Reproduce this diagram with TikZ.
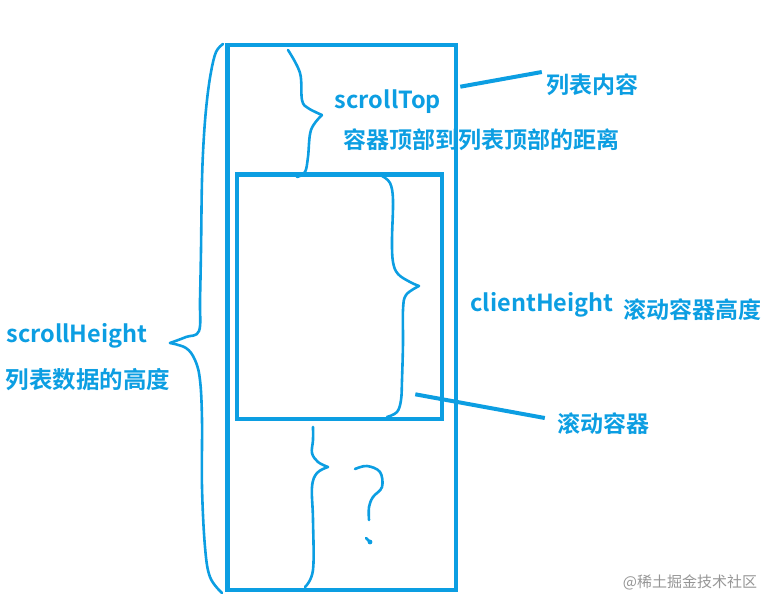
\documentclass[tikz,border=0pt]{standalone}
\usepackage{fontspec}
\setmainfont{Noto Sans}
\newfontfamily\cjk{Noto Sans CJK SC}[BoldFont={Noto Sans CJK SC Bold}]
\usetikzlibrary{calc}
\definecolor{penblue}{RGB}{12,158,226}
\definecolor{markgray}{RGB}{150,150,150}

\begin{document}
\begin{tikzpicture}[x=1pt,y=-1pt,
  box/.style={draw=penblue,line width=4.6pt,rectangle,inner sep=0pt},
  brc/.style={draw=penblue,line width=2.6pt,line cap=round,line join=round},
  lead/.style={draw=penblue,line width=4pt},
  en/.style={text=penblue,font=\cjk\fontsize{23.5}{26}\selectfont\bfseries,inner sep=1pt},
  zh/.style={text=penblue,font=\cjk\fontsize{23}{26}\selectfont\bfseries,inner sep=1pt}]
\useasboundingbox (0,0) rectangle (782,611);
\draw node [box, minimum width=228.5pt, minimum height=545pt] (list) at (341.75,317.5){};
\draw node [box, minimum width=205pt, minimum height=244.5pt] (view) at (339.5,296.75){};

\draw[brc] plot[smooth, tension=0.6] coordinates {(223,44) (216,52) (211,72) (207,100) (204,135) (202,180) (201,250) (200,300) (199,331) (186,337) (170,343)};
\draw[brc] plot[smooth, tension=0.6] coordinates {(170,343) (186,348) (195,360) (200,380) (202,420) (202,487) (205,547) (210,577) (222,593)};

\draw[brc] plot[smooth, tension=0.6] coordinates {(288,50) (300,73) (302,100) (308,108) (322,115)};
\draw[brc] plot[smooth, tension=0.6] coordinates {(322,115) (311,130) (308,157) (305,172) (297,177)};

\draw[brc] plot[smooth, tension=0.6] coordinates {(382,176) (390,183) (393,200) (392,240) (393,262) (398,274) (410,282) (419,286)};
\draw[brc] plot[smooth, tension=0.6] coordinates {(419,286) (406,295) (403,310) (403,343) (402,380) (401,400) (397,412) (387,417)};

\draw[brc] plot[smooth, tension=0.6] coordinates {(313,427) (313,440) (312,453) (318,462) (328,467)};
\draw[brc] plot[smooth, tension=0.6] coordinates {(328,467) (317,473) (312,487) (313,520) (313,570) (305,587)};

\draw[brc] plot[smooth, tension=0.6] coordinates {(355,469) (367,466) (380,472) (382,487) (373,497) (369,507) (369,520)};
\draw[brc] (366,538) -- (370,542);
\fill[penblue] (370,542) circle (2.4);

\draw node[en] (toptxt) at (388,102){scrollTop};
\draw node[zh] (topzh) at (481,140){容器顶部到列表顶部的距离};
\draw node[zh] (listlbl) at (592,85){列表内容};
\draw node[en] (clitxt) at (542,305){clientHeight};
\draw node[zh] (clizh) at (692,310){滚动容器高度};
\draw node[zh] (viewlbl) at (603,424){滚动容器};
\draw node[en] (sctxt) at (77,336){scrollHeight};
\draw node[zh,font=\cjk\fontsize{23.5}{26}\selectfont\bfseries] (sczh) at (88,380){列表数据的高度};
\draw node[text=markgray,font=\cjk\fontsize{15}{18}\selectfont] (mark) at (690,582){@稀土掘金技术社区};

\coordinate (listpt) at ($ (list.north east)+(2,44) $);
\draw[lead] (listpt) -- ($ (listlbl.west)+(-3,-13) $);
\coordinate (viewpt) at ($ (view.south east)+(-29,-27) $);
\draw[lead] (viewpt) -- ($ (viewlbl.west)+(-11,-6) $);

\end{tikzpicture}
\end{document}
